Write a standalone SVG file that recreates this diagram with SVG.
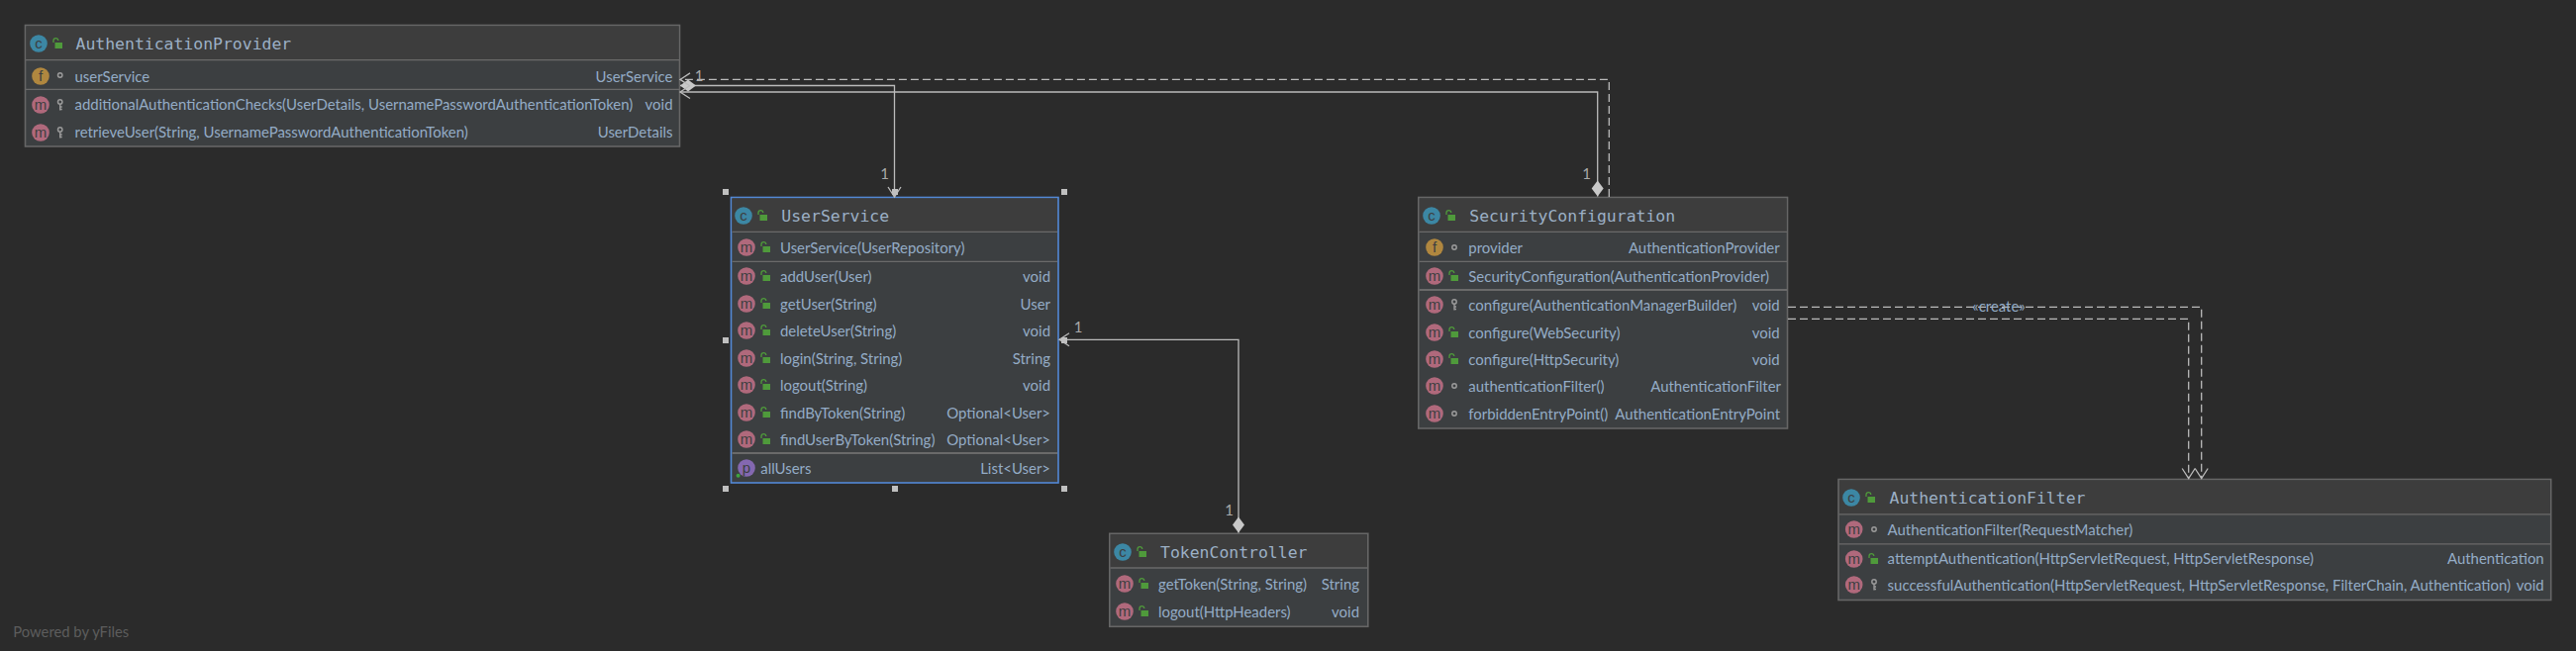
<svg xmlns="http://www.w3.org/2000/svg" width="2602" height="658" viewBox="0 0 2602 658">
<style>
.box{fill:#3c3f41;stroke:#666;stroke-width:1.6}
.sel{stroke:#5389d6}
.hd{fill:#3d3d3d}
.sep{stroke:#6a6a6a;stroke-width:1.3;fill:none}
.sep2{stroke:#6a6a6a;stroke-width:2.2;fill:none}
text{font-family:"Lato","Noto Sans",sans-serif;font-size:14.95px;fill:#94acc6}
.r{text-anchor:end}
.t{font-family:"DejaVu Sans Mono","Liberation Mono",monospace;font-size:16.45px;fill:#9cb0c6}
.ic{font-family:"Liberation Sans",sans-serif;font-size:15px;text-anchor:middle;fill:#3c3f41}
.n{fill:#a9a9a9;font-size:15px;text-anchor:middle}
.wm{fill:#5d5d5d;font-size:14.8px}
.e{fill:none;stroke:#bbb;stroke-width:1.3}
.d{stroke-dasharray:8 4}
.h{fill:#c0c0c0}
</style>
<defs>
<marker id="ar" markerUnits="userSpaceOnUse" markerWidth="14" markerHeight="18" refX="11" refY="8" orient="auto"><path d="M1,1.5 L11,8 L1,14.5" fill="none" stroke="#bbb" stroke-width="1.3"/></marker>
<marker id="di" markerUnits="userSpaceOnUse" markerWidth="18" markerHeight="14" refX="0.5" refY="7" orient="auto"><path d="M0.5,7 L8.5,1 L16.5,7 L8.5,13 Z" fill="#c8c8c8"/></marker>
<g id="c"><circle r="8.8" fill="#3c87a4"/><text class="ic" y="5">c</text></g>
<g id="f"><circle r="8.8" fill="#b0873f"/><text class="ic" y="5">f</text></g>
<g id="m"><circle r="8.8" fill="#b0697c"/><text class="ic" y="4.5">m</text></g>
<g id="p"><circle r="8.8" fill="#8468b0"/><text class="ic" y="4.5">p</text><circle cx="-8.4" cy="7.8" r="2" fill="#3fa33f"/></g>
<g id="lk"><rect x="-2.5" y="-1" width="7.5" height="6" fill="#4f9a3b"/><path d="M-4,-1 V-3 a2.4,2.4 0 0 1 4.8,0" fill="none" stroke="#4f9a3b" stroke-width="1.3"/></g>
<g id="dot"><circle r="2.2" fill="none" stroke="#9a9a9a" stroke-width="1.5"/></g>
<g id="key"><circle cy="-3" r="2.2" fill="none" stroke="#9a9a9a" stroke-width="1.5"/><path d="M0,-1 V5.5 M0,2 H2 M0,4.5 H2" fill="none" stroke="#9a9a9a" stroke-width="1.4"/></g>
</defs>
<rect width="2602" height="658" fill="#2b2b2b"/>

<g id="authentication-provider">
<rect class="box" x="25.5" y="25.5" width="661" height="122.5"/>
<rect class="hd" x="26.5" y="26.5" width="659" height="34"/>
<path class="sep" d="M26,60.7 H686 M26,90.3 H686"/>
<use href="#c" x="39" y="44"/><use href="#lk" x="58" y="44"/>
<text class="t" x="76.5" y="49.5">AuthenticationProvider</text>
<use href="#f" x="41" y="77"/><use href="#dot" x="60.7" y="76"/>
<text x="75.5" y="83">userService</text><text class="r" x="679.5" y="83">UserService</text>
<use href="#m" x="41" y="106"/><use href="#key" x="60.7" y="106"/>
<text x="75.5" y="111">additionalAuthenticationChecks(UserDetails, UsernamePasswordAuthenticationToken)</text><text class="r" x="679.5" y="111">void</text>
<use href="#m" x="41" y="134"/><use href="#key" x="60.7" y="134"/>
<text x="75.5" y="139">retrieveUser(String, UsernamePasswordAuthenticationToken)</text><text class="r" x="679.5" y="139">UserDetails</text>
</g>

<g id="user-service">
<rect class="box sel" x="738.5" y="199.5" width="330.5" height="288.5"/>
<rect class="hd" x="739.5" y="200.5" width="328.5" height="33.5"/>
<path class="sep" d="M739.5,234.3 H1068 M739.5,264.3 H1068"/><path class="sep2" d="M739.5,458 H1068"/>
<use href="#c" x="751" y="218"/><use href="#lk" x="770" y="218"/>
<text class="t" x="789.3" y="223.5">UserService</text>
<use href="#m" x="754" y="250"/><use href="#lk" x="773" y="250"/><text x="788" y="256">UserService(UserRepository)</text>
<use href="#m" x="754" y="279"/><use href="#lk" x="773" y="279"/><text x="788" y="285">addUser(User)</text><text class="r" x="1061" y="285">void</text>
<use href="#m" x="754" y="307"/><use href="#lk" x="773" y="307"/><text x="788" y="313">getUser(String)</text><text class="r" x="1061" y="313">User</text>
<use href="#m" x="754" y="334"/><use href="#lk" x="773" y="334"/><text x="788" y="340">deleteUser(String)</text><text class="r" x="1061" y="340">void</text>
<use href="#m" x="754" y="362"/><use href="#lk" x="773" y="362"/><text x="788" y="368">login(String, String)</text><text class="r" x="1061" y="368">String</text>
<use href="#m" x="754" y="389"/><use href="#lk" x="773" y="389"/><text x="788" y="395">logout(String)</text><text class="r" x="1061" y="395">void</text>
<use href="#m" x="754" y="417"/><use href="#lk" x="773" y="417"/><text x="788" y="423">findByToken(String)</text><text class="r" x="1061" y="423">Optional&lt;User&gt;</text>
<use href="#m" x="754" y="444"/><use href="#lk" x="773" y="444"/><text x="788" y="450">findUserByToken(String)</text><text class="r" x="1061" y="450">Optional&lt;User&gt;</text>
<use href="#p" x="754" y="473"/><text x="768.3" y="479">allUsers</text><text class="r" x="1061" y="479">List&lt;User&gt;</text>
</g>

<g id="token-controller">
<rect class="box" x="1120.8" y="539.3" width="261" height="94"/>
<rect class="hd" x="1121.8" y="540.3" width="259" height="33.5"/>
<path class="sep" d="M1121.5,574 H1381"/>
<use href="#c" x="1134" y="558"/><use href="#lk" x="1153" y="558"/>
<text class="t" x="1172" y="563.5">TokenController</text>
<use href="#m" x="1136" y="590"/><use href="#lk" x="1155" y="590"/><text x="1170" y="596">getToken(String, String)</text><text class="r" x="1373" y="596">String</text>
<use href="#m" x="1136" y="618"/><use href="#lk" x="1155" y="618"/><text x="1170" y="624">logout(HttpHeaders)</text><text class="r" x="1373" y="624">void</text>
</g>

<g id="security-configuration">
<rect class="box" x="1432.8" y="199.5" width="372.7" height="233.5"/>
<rect class="hd" x="1433.8" y="200.5" width="370.7" height="33.5"/>
<path class="sep" d="M1433.5,234.3 H1805 M1433.5,264.3 H1805"/><path class="sep2" d="M1433.5,293 H1805"/>
<use href="#c" x="1446" y="218"/><use href="#lk" x="1465" y="218"/>
<text class="t" x="1484.3" y="223.5">SecurityConfiguration</text>
<use href="#f" x="1449" y="250"/><use href="#dot" x="1469" y="250"/><text x="1483.3" y="256">provider</text><text class="r" x="1797.7" y="256">AuthenticationProvider</text>
<use href="#m" x="1449" y="279"/><use href="#lk" x="1468" y="279"/><text x="1483.3" y="285">SecurityConfiguration(AuthenticationProvider)</text>
<use href="#m" x="1449" y="308"/><use href="#key" x="1469" y="308"/><text x="1483.3" y="314">configure(AuthenticationManagerBuilder)</text><text class="r" x="1797.7" y="314">void</text>
<use href="#m" x="1449" y="336"/><use href="#lk" x="1468" y="336"/><text x="1483.3" y="342">configure(WebSecurity)</text><text class="r" x="1797.7" y="342">void</text>
<use href="#m" x="1449" y="363"/><use href="#lk" x="1468" y="363"/><text x="1483.3" y="369">configure(HttpSecurity)</text><text class="r" x="1797.7" y="369">void</text>
<use href="#m" x="1449" y="390"/><use href="#dot" x="1469" y="390"/><text x="1483.3" y="396">authenticationFilter()</text><text class="r" x="1799" y="396">AuthenticationFilter</text>
<use href="#m" x="1449" y="418"/><use href="#dot" x="1469" y="418"/><text x="1483.3" y="424">forbiddenEntryPoint()</text><text class="r" x="1798" y="424">AuthenticationEntryPoint</text>
</g>

<g id="authentication-filter">
<rect class="box" x="1857" y="484.5" width="719.7" height="122"/>
<rect class="hd" x="1858" y="485.5" width="717.7" height="34"/>
<path class="sep" d="M1857.5,519.8 H2576 M1857.5,549.8 H2576"/>
<use href="#c" x="1870" y="503"/><use href="#lk" x="1889" y="503"/>
<text class="t" x="1908.5" y="508.5">AuthenticationFilter</text>
<use href="#m" x="1872.7" y="535"/><use href="#dot" x="1893" y="535"/><text x="1906.6" y="541">AuthenticationFilter(RequestMatcher)</text>
<use href="#m" x="1872.7" y="565"/><use href="#lk" x="1892" y="565"/><text x="1906.6" y="570">attemptAuthentication(HttpServletRequest, HttpServletResponse)</text><text class="r" x="2569.7" y="570">Authentication</text>
<use href="#m" x="1872.7" y="591"/><use href="#key" x="1893" y="591"/><text x="1906.6" y="597">successfulAuthentication(HttpServletRequest, HttpServletResponse, FilterChain, Authentication)</text><text class="r" x="2569.7" y="597">void</text>
</g>

<g id="connectors">
<path class="e" marker-start="url(#di)" marker-end="url(#ar)" d="M687,86.5 H903.5 V199"/>
<path class="e" marker-start="url(#di)" marker-end="url(#ar)" d="M1613.7,198.5 V93 H687"/>
<path class="e d" marker-end="url(#ar)" d="M1625.3,199 V80.4 H687"/>
<path class="e" marker-start="url(#di)" marker-end="url(#ar)" d="M1251,538.5 V343.3 H1070"/>
<path class="e d" marker-end="url(#ar)" d="M1806,310.4 H2223.7 V483.5"/>
<path class="e d" marker-end="url(#ar)" d="M1806,322.4 H2210.7 V483.5"/>
<text class="n" x="706" y="82">1</text>
<text class="n" x="893.5" y="180.5">1</text>
<text class="n" x="1089" y="335.5">1</text>
<text class="n" x="1241.7" y="520.5">1</text>
<text class="n" x="1602.7" y="180.5">1</text>
<text x="2019" y="315" text-anchor="middle">«create»</text>
</g>

<g id="selection-handles" class="h">
<rect x="730" y="191" width="6" height="6"/><rect x="901" y="191" width="6" height="6"/><rect x="1072" y="191" width="6" height="6"/>
<rect x="730" y="341" width="6" height="6"/><rect x="1072" y="341" width="6" height="6"/>
<rect x="730" y="491" width="6" height="6"/><rect x="901" y="491" width="6" height="6"/><rect x="1072" y="491" width="6" height="6"/>
</g>

<text class="wm" x="13.3" y="644">Powered by yFiles</text>
</svg>
